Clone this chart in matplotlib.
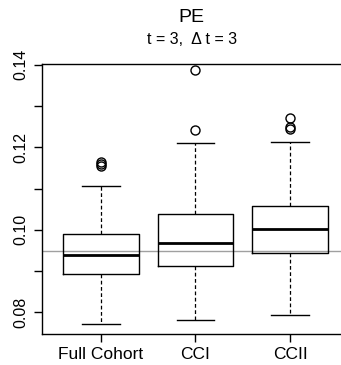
import matplotlib
matplotlib.use("Agg")
import matplotlib.pyplot as plt

plt.rcParams['font.family'] = ['Liberation Sans', 'DejaVu Sans']

groups = ["Full Cohort", "CCI", "CCII"]
whislo = [0.0771, 0.0781, 0.0794]
q1 = [0.0892, 0.0913, 0.0944]
med = [0.0939, 0.0968, 0.1002]
q3 = [0.0990, 0.1038, 0.1058]
whishi = [0.1105, 0.1211, 0.1214]
fliers = [[0.1155, 0.1160, 0.1165], [0.1242, 0.1387], [0.1245, 0.1250, 0.1271]]
ref_value = 0.0949

yticks = [0.08, 0.09, 0.10, 0.11, 0.12, 0.13, 0.14]
ylabels = ["0.08", "", "0.10", "", "0.12", "", "0.14"]

stats = []
for i, name in enumerate(groups):
    stats.append(dict(label=name, whislo=whislo[i], q1=q1[i], med=med[i],
                      q3=q3[i], whishi=whishi[i], fliers=fliers[i]))

fig = plt.figure(figsize=(3.41, 3.65), dpi=100)
ax = fig.add_axes([0.1243, 0.0849, 0.898, 0.7397])

# reference level drawn behind the boxes
ax.axhline(ref_value, color="#a0a0a0", lw=1, zorder=0)

ax.bxp(stats, positions=[1, 2, 3], widths=0.8, patch_artist=False,
       boxprops=dict(color="black", lw=1),
       medianprops=dict(color="black", lw=2),
       whiskerprops=dict(color="black", lw=0.9, linestyle=(0, (3, 2))),
       capprops=dict(color="black", lw=1),
       flierprops=dict(marker="o", markerfacecolor="none", markeredgecolor="black",
                       markersize=6.5, markeredgewidth=1),
       capwidths=0.4)

ax.set_xlim(0.38, 3.62)
ax.set_ylim(0.0747, 0.1402)
ax.set_xticks([1, 2, 3])
ax.set_xticklabels(groups, fontsize=12.5)
ax.set_yticks(yticks)
ax.set_yticklabels(ylabels, fontsize=11.5, rotation=90, va="center")
ax.tick_params(axis="both", direction="out", length=6, width=1, color="black")
ax.tick_params(axis="y", pad=4)
ax.tick_params(axis="x", pad=3)
for s in ax.spines.values():
    s.set_linewidth(1)

fig.text(0.562, 0.952, "PE", ha="center", va="center", fontsize=14)
fig.text(0.562, 0.893, "t = 3,  \u0394 t = 3", ha="center", va="center", fontsize=11.5)

fig.savefig("out.png", dpi=100)
